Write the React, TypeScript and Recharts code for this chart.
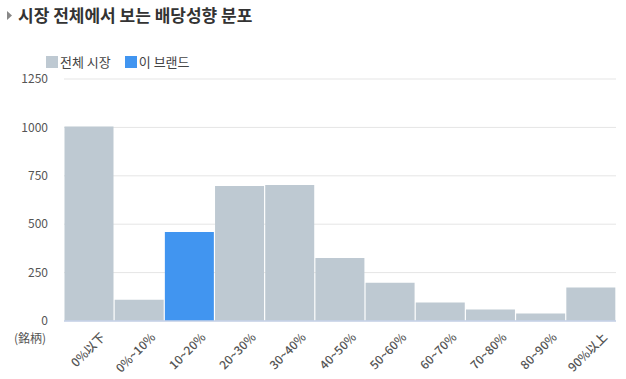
import { Bar, BarChart, CartesianGrid, XAxis, YAxis } from 'recharts'

const categories = ['0%以下', '0%~10%', '10~20%', '20~30%', '30~40%', '40~50%', '50~60%', '60~70%', '70~80%', '80~90%', '90%以上']
const marketCounts = [1005, 110, null, 697, 702, 325, 198, 96, 60, 39, 173]
const brandCounts = [null, null, 460, null, null, null, null, null, null, null, null]
const yTicks = [0, 250, 500, 750, 1000, 1250]

const GRAY = '#bec9d2'
const BLUE = '#4195f0'
const FONT = '"Noto Sans CJK KR", "Noto Sans", sans-serif'

const data = categories.map((name, i) => ({
  name,
  market: marketCounts[i],
  brand: brandCounts[i]
}))

function XTick({ x, y, payload }: { x: number; y: number; payload: { value: string } }) {
  const ax = x + 17
  const ay = y + 17
  return (
    <text
      x={ax}
      y={ay}
      transform={`rotate(-45 ${ax} ${ay})`}
      textAnchor="end"
      fontSize={12}
      fontWeight={500}
      fill="#555"
      fontFamily={FONT}
    >
      {payload.value}
    </text>
  )
}

export default function App() {
  return (
    <div
      style={{
        position: 'absolute',
        left: 0,
        top: 0,
        width: 626,
        height: 379,
        background: '#fff',
        fontFamily: FONT
      }}
    >
      <div style={{ position: 'absolute', left: 7, top: 4, display: 'flex', alignItems: 'center' }}>
        <svg width={6} height={9} style={{ marginRight: 5 }}>
          <polygon points="0,0 5,4.5 0,9" fill="#888" />
        </svg>
        <span style={{ fontSize: 17, fontWeight: 700, color: '#333', lineHeight: '22px' }}>
          시장 전체에서 보는 배당성향 분포
        </span>
      </div>

      <div
        style={{
          position: 'absolute',
          left: 46,
          top: 52,
          display: 'flex',
          alignItems: 'center',
          fontSize: 13,
          color: '#444'
        }}
      >
        <span style={{ width: 12, height: 12, background: GRAY, marginRight: 2 }} />
        <span style={{ marginRight: 14 }}>전체 시장</span>
        <span style={{ width: 12, height: 12, background: BLUE, marginRight: 2 }} />
        <span>이 브랜드</span>
      </div>

      <div style={{ position: 'absolute', left: 14, top: 329, fontSize: 12, color: '#555' }}>(銘柄)</div>

      <BarChart
        width={626}
        height={379}
        data={data}
        margin={{ top: 79, right: 10, left: 0, bottom: 0 }}
        barCategoryGap={0.5}
      >
        <CartesianGrid vertical={false} stroke="#e5e5e5" />
        <XAxis
          dataKey="name"
          height={58}
          axisLine={{ stroke: '#c6d2e8', strokeWidth: 1.5 }}
          tickLine={false}
          tickSize={0}
          tickMargin={0}
          interval={0}
          tick={XTick}
        />
        <YAxis
          width={64}
          domain={[0, 1250]}
          ticks={yTicks}
          axisLine={false}
          tickLine={false}
          tickSize={0}
          tickMargin={16}
          tick={{ fontSize: 12, fill: '#555', fontFamily: FONT }}
        />
        <Bar dataKey="market" name="전체 시장" stackId="a" fill={GRAY} isAnimationActive={false} />
        <Bar dataKey="brand" name="이 브랜드" stackId="a" fill={BLUE} isAnimationActive={false} />
      </BarChart>
    </div>
  )
}
